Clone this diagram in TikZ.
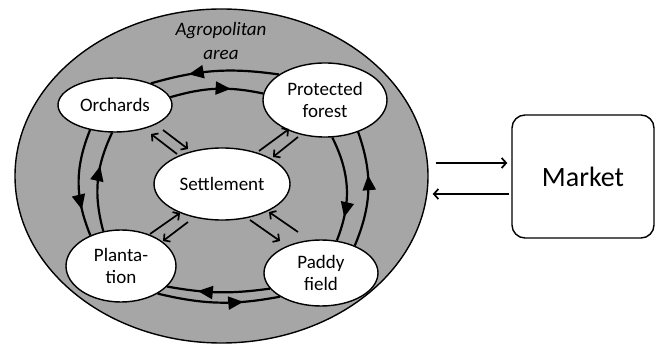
\documentclass[tikz,border=0pt]{standalone}
\usepackage{fontspec}
\setmainfont{Carlito}
\usetikzlibrary{shapes.geometric,arrows.meta,decorations.markings,calc}
\definecolor{areagray}{HTML}{A6A6A6}
\begin{document}
\begin{tikzpicture}[x=1pt,y=1pt,
  region/.style={ellipse,draw=black,fill=white,line width=1.4pt,inner sep=0pt,align=center,font=\fontsize{19}{22.5}\selectfont},
  flow/.style={line width=2.2pt},
  tri/.style={postaction={decorate},decoration={markings,mark=at position #1 with {\arrow{Triangle[length=15pt,width=13pt]}}}},
  small/.style={-{Straight Barb[length=4.5pt,width=10pt]},line width=1.7pt}]
\useasboundingbox (0,0) rectangle (656,-347);
\node[ellipse,draw=black,fill=areagray,line width=1.4pt,minimum width=413pt,minimum height=334pt] (area) at (221.5,-176) {};
\node[font=\itshape\fontsize{19}{23.5}\selectfont,align=center] (lbl) at (221,-41) {Agropolitan\\area};
\node[region,minimum width=114pt,minimum height=54pt] (orch) at (115,-105) {Orchards};
\node[region,minimum width=124pt,minimum height=74pt] (pf) at (325,-100) {Protected\\forest};
\node[region,minimum width=136pt,minimum height=72pt] (set) at (222,-184) {Settlement};
\node[region,minimum width=110pt,minimum height=72pt] (plant) at (121,-266) {Planta-\\tion};
\node[region,minimum width=114pt,minimum height=66pt] (paddy) at (321,-273) {Paddy\\field};
\node[draw=black,fill=white,rounded corners=13pt,line width=1.4pt,minimum width=142pt,minimum height=123pt,font=\fontsize{28}{33}\selectfont] (market) at (583,-176.5) {Market};
% circulation arcs
\draw[flow,tri=0.7] (pf.151) to[bend right=12] (orch.31);
\draw[flow,tri=0.65] (orch.8) to[bend left=14] (pf.174);
\draw[flow,tri=0.75] (orch.-135) to[bend right=22] (plant.135);
\draw[flow,tri=0.65] (plant.117) to[bend left=20] (orch.-96);
\draw[flow,tri=0.77] (pf.-79) to[bend left=24] (paddy.64);
\draw[flow,tri=0.62] (paddy.39) to[bend right=21] (pf.-44);
\draw[flow,tri=0.7] (paddy.-163) to[bend left=9] (plant.-24);
\draw[flow,tri=0.7] (plant.-37) to[bend right=12] (paddy.-150);
% small exchange arrows
\coordinate (oa1) at (177,-154); \coordinate (oa2) at (151,-134);
\coordinate (ob1) at (163,-130); \coordinate (ob2) at (188,-149);
\coordinate (pa1) at (259,-151); \coordinate (pa2) at (289,-129);
\coordinate (pb1) at (298,-137); \coordinate (pb2) at (273,-157);
\coordinate (la1) at (150,-234); \coordinate (la2) at (180,-213);
\coordinate (lb1) at (188,-222); \coordinate (lb2) at (163,-241);
\coordinate (da1) at (250,-220); \coordinate (da2) at (280,-241);
\coordinate (db1) at (298,-232); \coordinate (db2) at (269,-212);
\draw[small] (oa1) -- (oa2);
\draw[small] (ob1) -- (ob2);
\draw[small] (pa1) -- (pa2);
\draw[small] (pb1) -- (pb2);
\draw[small] (la1) -- (la2);
\draw[small] (lb1) -- (lb2);
\draw[small] (da1) -- (da2);
\draw[small] (db1) -- (db2);
% market arrows
\draw[small] ($(area.east)+(7,13)$) -- ($(market.west)+(-4,13.5)$);
\draw[small] ($(market.west)+(-2,-17.5)$) -- ($(area.east)+(4,-18)$);
\end{tikzpicture}
\end{document}
